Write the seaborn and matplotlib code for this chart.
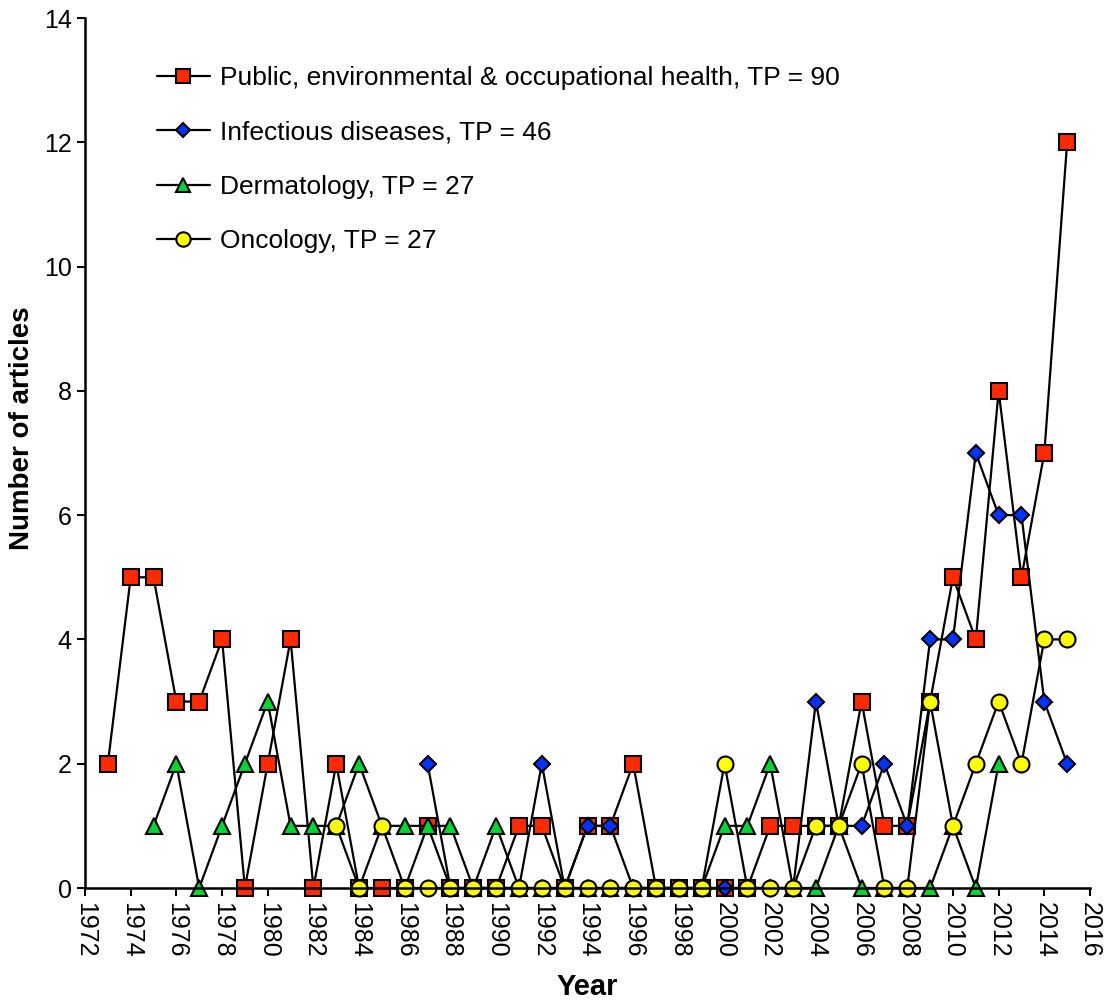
import matplotlib
matplotlib.use("Agg")
import matplotlib.pyplot as plt
import seaborn as sns

# values
public_years = list(range(1973, 2016))
public_vals = [2, 5, 5, 3, 3, 4, 0, 2, 4, 0, 2, 0, 0, 0, 1, 0, 0, 0, 1, 1, 0, 1,
               1, 2, 0, 0, 0, 0, 0, 1, 1, 1, 1, 3, 1, 1, 3, 5, 4, 8, 5, 7, 12]

infect_years = list(range(1987, 2016))
infect_vals = [2, 0, 0, 0, 0, 2, 0, 1, 1, 0, 0, 0, 0, 0, 0, 0, 0, 3, 1, 1, 2, 1,
               4, 4, 7, 6, 6, 3, 2]

derm_years = list(range(1975, 2013))
derm_vals = [1, 2, 0, 1, 2, 3, 1, 1, 1, 2, 1, 1, 1, 1, 0, 1, 0, 0, 0, 0, 0, 0,
             0, 0, 0, 1, 1, 2, 0, 0, 1, 0, 0, 0, 0, 1, 0, 2]

onco_years = list(range(1983, 2016))
onco_vals = [1, 0, 1, 0, 0, 0, 0, 0, 0, 0, 0, 0, 0, 0, 0, 0, 0, 2, 0, 0, 0, 1,
             1, 2, 0, 0, 3, 1, 2, 3, 2, 4, 4]

labels = ["Public, environmental & occupational health, TP = 90",
          "Infectious diseases, TP = 46",
          "Dermatology, TP = 27",
          "Oncology, TP = 27"]

sns.set_style("ticks")
plt.rcParams["font.family"] = ["Liberation Sans", "DejaVu Sans"]
plt.rcParams["text.color"] = "black"
plt.rcParams["axes.labelcolor"] = "black"

fig = plt.figure(figsize=(11.1, 10.02), dpi=100)
ax = fig.add_axes([85 / 1110, 1 - 888 / 1002, (1090 - 85) / 1110, (888 - 18) / 1002])

series = [
    (public_years, public_vals, "s", "#ff2a00", 11.5),
    (infect_years, infect_vals, "D", "#0033ff", 8),
    (derm_years, derm_vals, "^", "#00d633", 11.5),
    (onco_years, onco_vals, "o", "#ffff00", 11.5),
]
for (xs, ys, mk, fc, ms), lab in zip(series, labels):
    sns.lineplot(x=xs, y=ys, ax=ax, color="black", linewidth=1.6, marker=mk,
                 markersize=ms, markerfacecolor=fc, markeredgecolor="black",
                 markeredgewidth=1.5, label=lab, clip_on=False)

ax.set_xlim(1972, 2016)
ax.set_ylim(0, 14)
ax.set_xticks(range(1972, 2017, 2))
ax.set_yticks(range(0, 15, 2))
ax.tick_params(axis="both", direction="out", length=6, width=1.5, labelsize=18, colors="black")
ax.tick_params(axis="x", labelrotation=-90, pad=4)
for sp in ["left", "bottom"]:
    ax.spines[sp].set_linewidth(1.8)
    ax.spines[sp].set_color("black")
sns.despine(ax=ax)

ax.set_ylabel("Number of articles", fontsize=20, fontweight="bold")
ax.yaxis.set_label_coords(-0.05, 0.529)
ax.set_xlabel("Year", fontsize=21, fontweight="bold", labelpad=11)

leg = ax.legend(loc="upper left", bbox_to_anchor=(0.048, 0.972), frameon=False,
                prop={"size": 19}, handlelength=2.0,
                handletextpad=0.4, labelspacing=1.15, markerscale=0.9)
for t in leg.get_texts():
    t.set_color("black")

fig.savefig("out.png", dpi=100)
